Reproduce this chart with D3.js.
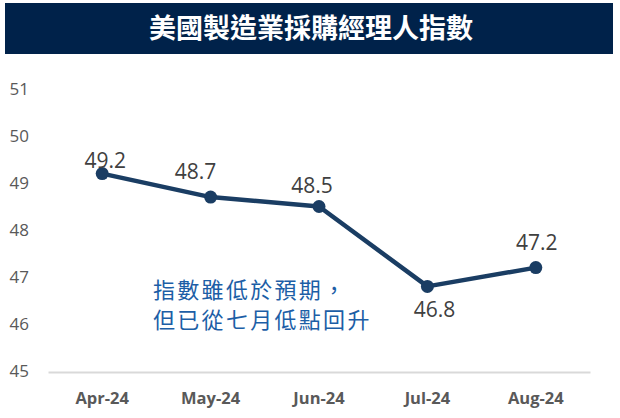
<!DOCTYPE html>
<html><head><meta charset="utf-8">
<script src="https://cdn.jsdelivr.net/npm/d3@7"></script>
<style>body{margin:0;background:#fff}svg{display:block}</style>
</head><body>
<svg id="c" width="620" height="418"></svg>
<script>
const title = "美國製造業採購經理人指數";
const categories = ["Apr-24","May-24","Jun-24","Jul-24","Aug-24"];
const values = [49.2, 48.7, 48.5, 46.8, 47.2];
const yTicks = [45,46,47,48,49,50,51];
const note = ["指數雖低於預期，","但已從七月低點回升"];
const labelDy = [-6, -18, -14, 31, -18];
const labelDx = [3, -15, -7, 7, 1];

const svg = d3.select("#c");
const W = 620, H = 418;
const m = {l:48, r:30};
const x = d3.scaleBand().domain(categories).range([m.l, W - m.r]);
const y = d3.scaleLinear().domain([45,51]).range([371, 89]);
const NUM = "'Open Sans', sans-serif";

svg.append("rect").attr("x",5).attr("y",3).attr("width",608).attr("height",51).attr("fill","#00224a");
svg.append("text").attr("x",311).attr("y",38).attr("text-anchor","middle")
  .attr("fill","#fff").attr("font-family","'Noto Sans CJK TC'").attr("font-weight",700)
  .attr("font-size",27).text(title);

// y axis labels
const ya = svg.append("g").attr("transform","translate(30,0)")
  .call(d3.axisLeft(y).tickValues(yTicks).tickFormat(d3.format("d")).tickSize(0).tickPadding(0));
ya.select(".domain").remove();
ya.selectAll("text").attr("font-family",NUM).attr("font-size",17)
  .attr("fill","#595959").attr("text-anchor","end").attr("dx",-1).attr("dy","0.35em");

// x axis
const xa = svg.append("g").attr("transform","translate(0,372)")
  .call(d3.axisBottom(x).tickSize(0).tickPadding(0));
xa.select(".domain").attr("stroke","#d9d9d9").attr("stroke-width",2);
xa.selectAll("text").attr("font-family",NUM).attr("font-weight",700)
  .attr("font-size",16.5).attr("fill","#595959").attr("dy",0).attr("y",32);

const cx = d => x(d) + x.bandwidth()/2;
const pts = categories.map((c,i)=>[cx(c), y(values[i])]);
svg.append("path").attr("d", d3.line()(pts)).attr("fill","none")
  .attr("stroke","#1a3d63").attr("stroke-width",4.5).attr("stroke-linejoin","round");
svg.selectAll("circle.p").data(pts).enter().append("circle")
  .attr("cx",d=>d[0]).attr("cy",d=>d[1]).attr("r",6.5).attr("fill","#1a3d63");
svg.selectAll("text.v").data(values).enter().append("text")
  .attr("x",(d,i)=>pts[i][0]+labelDx[i]).attr("y",(d,i)=>pts[i][1]+labelDy[i])
  .attr("text-anchor","middle").attr("font-family",NUM)
  .attr("font-size",21).attr("fill","#404040").text(d=>d.toFixed(1));

svg.selectAll("text.n").data(note).enter().append("text")
  .attr("x",153).attr("y",(d,i)=>298+i*30)
  .attr("font-family","'Noto Sans CJK TC'").attr("font-size",22).attr("letter-spacing",2.3)
  .attr("fill","#1c5ea6").text(d=>d);
</script>
</body></html>
